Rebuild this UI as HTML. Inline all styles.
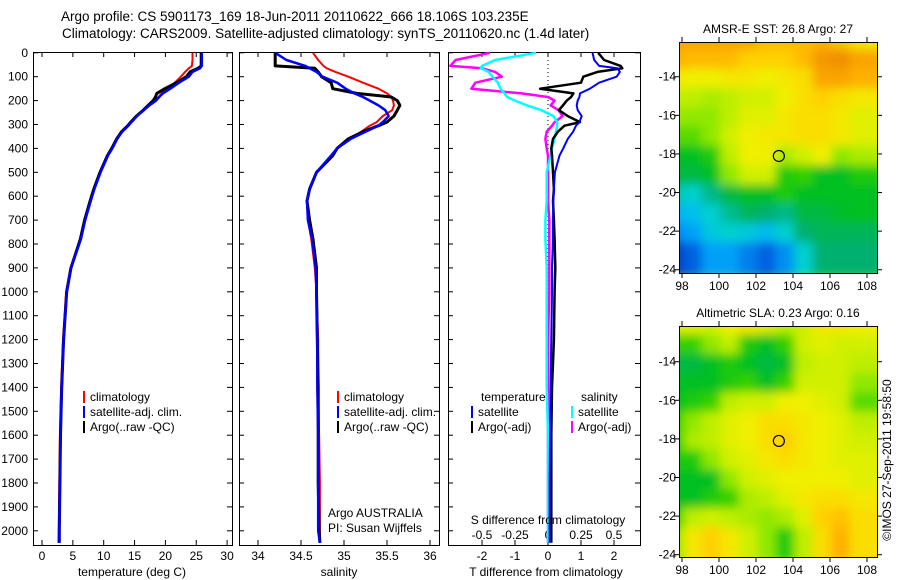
<!DOCTYPE html>
<html><head><meta charset="utf-8">
<style>
body{margin:0;background:#fff;width:900px;height:580px;overflow:hidden}
svg{display:block;font-family:"Liberation Sans",sans-serif}
text{fill:#000}
</style></head>
<body>
<svg id="chart" width="900" height="580" viewBox="0 0 900 580">
<text x="61" y="21" font-size="13.5">Argo profile: CS 5901173_169 18-Jun-2011 20110622_666 18.106S 103.235E</text>
<text x="62" y="38" font-size="13.5">Climatology: CARS2009. Satellite-adjusted climatology: synTS_20110620.nc (1.4d later)</text>
<text x="891" y="460" font-size="12" transform="rotate(-90 891 460)" text-anchor="middle">©IMOS 27-Sep-2011 19:58:50</text>
<g id="g"></g>
</svg>
<script>
// ---------- data ----------
const depths=[0,30,55,65,80,100,125,150,170,185,200,220,240,265,290,305,330,360,400,430,500,570,620,700,780,900,1000,1200,1400,1600,1800,2000,2050];
const depthTicks=[0,100,200,300,400,500,600,700,800,900,1000,1100,1200,1300,1400,1500,1600,1700,1800,1900,2000];
const tempTicks=[0,5,10,15,20,25,30];
const salTicks=[34,34.5,35,35.5,36];
const tdiffTicks=[-2,-1,0,1,2];
const sdiffTicks=[-0.5,-0.25,0,0.25,0.5];
const sdiffLabels=["-0.5","-0.25","0","0.25","0.5"];
const tempClim=[24.4,24.4,24.3,23.8,23.2,22.5,21.5,20.2,19.4,18.9,18.3,17.2,16.3,15.2,14.3,13.8,12.8,12.1,11.3,10.6,9.4,8.4,7.8,6.9,6.2,4.6,3.9,3.4,3.1,2.9,2.8,2.7,2.65];
const tempSat=[25.9,25.9,25.9,25.6,24.4,23.8,22.2,20.8,19.6,19.0,18.5,17.4,16.5,15.4,14.5,14.0,13.0,12.2,11.4,10.7,9.5,8.5,7.9,7.0,6.3,4.7,4.0,3.5,3.2,3.0,2.9,2.8,2.8];
const tempArgo=[25.8,25.8,25.8,25.3,24.0,23.4,21.8,19.9,18.6,18.4,18.0,17.2,16.4,15.3,14.4,13.9,12.9,12.1,11.3,10.6,9.4,8.4,7.8,6.9,6.2,4.7,4.0,3.5,3.2,3.0,2.9,2.8,2.8];
const salClim=[34.64,34.70,34.76,34.80,34.90,35.05,35.22,35.40,35.50,35.55,35.57,35.58,35.56,35.45,35.38,35.30,35.20,35.08,34.92,34.85,34.68,34.60,34.57,34.58,34.62,34.66,34.68,34.70,34.70,34.71,34.72,34.72,34.72];
const salSat=[34.20,34.33,34.55,34.60,34.68,34.75,34.92,35.02,35.12,35.22,35.30,35.40,35.48,35.52,35.45,35.40,35.25,35.08,34.92,34.85,34.68,34.60,34.57,34.58,34.63,34.67,34.68,34.69,34.69,34.70,34.70,34.70,34.72];
const salArgo=[34.20,34.20,34.20,34.66,34.70,34.74,34.85,34.87,35.15,35.55,35.62,35.65,35.62,35.58,35.50,35.40,35.22,35.05,34.92,34.87,34.68,34.60,34.57,34.60,34.64,34.68,34.68,34.69,34.70,34.70,34.70,34.71,34.72];
const tdiffSat=[1.35,1.40,1.55,2.10,2.18,2.08,1.55,1.27,0.97,0.95,0.90,0.87,0.90,1.02,0.95,0.85,0.76,0.60,0.46,0.35,0.21,0.18,0.16,0.15,0.15,0.12,0.12,0.10,0.08,0.06,0.05,0.05,0.05];
const tdiffArgo=[1.52,1.70,2.20,2.25,1.50,1.07,1.00,-0.24,0.77,0.70,0.57,0.45,0.33,0.60,0.97,0.50,0.30,0.15,0.10,0.12,0.15,0.18,0.15,0.18,0.20,0.22,0.20,0.18,0.12,0.10,0.10,0.10,0.10];
const sdiffSat=[-0.09,-0.40,-0.50,-0.51,-0.45,-0.42,-0.38,-0.36,-0.33,-0.31,-0.25,-0.16,-0.05,0.04,0.07,0.07,0.06,0.05,0.03,0.02,-0.01,-0.01,-0.01,-0.02,-0.02,-0.01,-0.01,-0.01,-0.01,0.0,0.0,0.0,0.0];
const sdiffArgo=[-0.44,-0.70,-0.74,-0.50,-0.40,-0.35,-0.55,-0.58,-0.20,0.00,0.05,0.02,0.08,0.11,0.05,0.03,-0.01,-0.02,-0.01,0.00,0.00,0.00,0.00,0.01,0.01,0.01,0.01,0.0,0.0,0.0,0.0,0.0,0.0];
const lonTicks=[98,100,102,104,106,108];
const latTicks=[-14,-16,-18,-20,-22,-24];
const gridLons=[98,99,100,101,102,103,104,105,106,107,108];
const gridLats=[-12.5,-13.5,-14.5,-15.5,-16.5,-17.5,-18.5,-19.5,-20.5,-21.5,-22.5,-23.5];
const sstGrid=[
[0.85,0.85,0.85,0.85,0.85,0.8,0.8,0.8,0.82,0.78,0.7],
[0.82,0.8,0.8,0.8,0.75,0.75,0.75,0.8,0.88,0.9,0.85],
[0.7,0.68,0.68,0.7,0.7,0.68,0.7,0.72,0.85,0.85,0.82],
[0.6,0.6,0.58,0.6,0.62,0.62,0.68,0.72,0.75,0.72,0.7],
[0.56,0.55,0.55,0.6,0.65,0.65,0.7,0.72,0.72,0.7,0.65],
[0.52,0.52,0.55,0.62,0.68,0.7,0.7,0.72,0.72,0.7,0.65],
[0.45,0.45,0.48,0.6,0.68,0.68,0.58,0.62,0.68,0.55,0.58],
[0.42,0.42,0.45,0.55,0.62,0.62,0.48,0.5,0.45,0.45,0.48],
[0.33,0.3,0.36,0.42,0.45,0.45,0.48,0.45,0.45,0.45,0.45],
[0.22,0.26,0.3,0.35,0.4,0.38,0.36,0.42,0.42,0.44,0.45],
[0.17,0.2,0.28,0.3,0.28,0.25,0.3,0.38,0.4,0.4,0.4],
[0.06,0.12,0.2,0.2,0.16,0.12,0.18,0.3,0.38,0.38,0.38]];
const slaGrid=[
[0.65,0.65,0.62,0.68,0.7,0.65,0.6,0.62,0.7,0.7,0.68],
[0.5,0.5,0.55,0.6,0.48,0.45,0.5,0.62,0.65,0.62,0.62],
[0.42,0.42,0.45,0.48,0.45,0.42,0.45,0.6,0.62,0.62,0.6],
[0.45,0.45,0.45,0.48,0.5,0.45,0.5,0.62,0.62,0.62,0.55],
[0.45,0.48,0.5,0.6,0.62,0.62,0.68,0.68,0.65,0.62,0.52],
[0.5,0.55,0.6,0.65,0.68,0.72,0.72,0.7,0.68,0.65,0.6],
[0.48,0.58,0.6,0.65,0.68,0.72,0.75,0.7,0.68,0.65,0.62],
[0.48,0.48,0.55,0.62,0.65,0.7,0.72,0.7,0.68,0.65,0.65],
[0.45,0.45,0.45,0.55,0.62,0.65,0.68,0.68,0.68,0.68,0.65],
[0.45,0.45,0.48,0.5,0.58,0.6,0.65,0.7,0.72,0.72,0.7],
[0.5,0.6,0.62,0.6,0.58,0.55,0.58,0.65,0.75,0.78,0.72],
[0.55,0.7,0.75,0.7,0.62,0.55,0.48,0.6,0.72,0.82,0.72]];
const floatLon=103.235, floatLat=-18.106;

// ---------- helpers ----------
const NS="http://www.w3.org/2000/svg";
const G=document.getElementById('g');
function mk(tag,attrs,parent){const e=document.createElementNS(NS,tag);for(const k in attrs)e.setAttribute(k,attrs[k]);(parent||G).appendChild(e);return e;}
const PB=545;
const yD=d=>52.8+0.239*d;
const xT=t=>42+6.17*t;
const xS=s=>258+86*(s-34);
const xTd=v=>548+33*v;
const xSd=v=>548+132*v;

function panel(x0,x1,y0,y1,name){
  const r=mk('rect',{x:x0+0.5,y:y0+0.5,width:x1-x0,height:y1-y0,fill:'none',stroke:'#000','stroke-width':1});
  
  
}
function xticks(vals,fx,y0,y1,labels,ly,name){
  vals.forEach((v,i)=>{
    const x=fx(v);
    mk('line',{x1:x,x2:x,y1:y1,y2:y1-5,stroke:'#000'});
    mk('line',{x1:x,x2:x,y1:y0,y2:y0+5,stroke:'#000'});
    if(labels){const t=mk('text',{x:x,y:ly,'font-size':12,'text-anchor':'middle'});t.textContent=labels[i];
      
      }
  });
}
function yticks(fx0,fx1,lab){
  depthTicks.forEach(d=>{
    const y=yD(d);
    mk('line',{x1:fx0,x2:fx0+5,y1:y,y2:y,stroke:'#000'});
    mk('line',{x1:fx1,x2:fx1-5,y1:y,y2:y,stroke:'#000'});
    if(lab){const t=mk('text',{x:28,y:y+4,'font-size':12,'text-anchor':'end'});t.textContent=d;
      
      }
  });
}
function line(vals,fx,color,w,name){
  let pts=[];
  vals.forEach((v,i)=>{pts.push(fx(v).toFixed(1)+','+Math.min(yD(depths[i]),PB).toFixed(1));});
  const p=mk('polyline',{points:pts.join(' '),fill:'none',stroke:color,'stroke-width':w,'stroke-linejoin':'round'});
  
  
}
function txt(x,y,s,name,anchor,size){const t=mk('text',{x:x,y:y,'font-size':size||12,'text-anchor':anchor||'start'});t.textContent=s;
  
  return t;}
function legend(x,y,items,prefix){
  items.forEach((it,i)=>{
    const yy=y+i*15;
    mk('line',{x1:x,x2:x,y1:yy-10,y2:yy+2,stroke:it[1],'stroke-width':2});
    txt(x+6,yy,it[0],prefix+'-legend-entry');
  });
}

// ---------- panel 1: temperature ----------
panel(33,232,52,PB,'temperature-panel');
yticks(33,232,true);
xticks(tempTicks,xT,52,PB,tempTicks,560,'temperature');
line(tempClim,xT,'#f00',2,'temperature-climatology-line');
line(tempArgo,xT,'#000',3,'temperature-argo-line');
line(tempSat,xT,'#00f',2.5,'temperature-satellite-line');
txt(132,576,'temperature (deg C)','temperature-axis-title','middle');
legend(84,401,[['climatology','#f00'],['satellite-adj. clim.','#00f'],['Argo(..raw -QC)','#000']],'temperature');

// ---------- panel 2: salinity ----------
panel(239,439,52,PB,'salinity-panel');
yticks(239,439,false);
xticks(salTicks,xS,52,PB,salTicks,560,'salinity');
line(salClim,xS,'#f00',2,'salinity-climatology-line');
line(salArgo,xS,'#000',3,'salinity-argo-line');
line(salSat,xS,'#00f',2.5,'salinity-satellite-line');
txt(339,576,'salinity','salinity-axis-title','middle');
legend(338,401,[['climatology','#f00'],['satellite-adj. clim.','#00f'],['Argo(..raw -QC)','#000']],'salinity');
txt(328,517,'Argo AUSTRALIA','argo-australia-label');
txt(328,532,'PI: Susan Wijffels','pi-label');

// ---------- panel 3: differences ----------
panel(448,640,52,PB,'difference-panel');
yticks(448,640,false);
xticks(tdiffTicks,xTd,52,PB,tdiffTicks,560,'tdiff');
sdiffTicks.forEach(v=>{const x=xSd(v);mk('line',{x1:x,x2:x,y1:52,y2:57,stroke:'#000'});});
sdiffTicks.forEach((v,i)=>txt(xSd(v),539,sdiffLabels[i],'sdiff-tick-label','middle'));
mk('line',{x1:548,x2:548,y1:52,y2:PB,stroke:'#000','stroke-dasharray':'1,3'});
line(sdiffArgo,xSd,'#f0f',2.5,'sdiff-argo-line');
line(sdiffSat,xSd,'#0ff',2.5,'sdiff-satellite-line');
line(tdiffArgo,xTd,'#000',2.5,'tdiff-argo-line');
line(tdiffSat,xTd,'#00f',2,'tdiff-satellite-line');
txt(548,524,'S difference from climatology','sdiff-axis-title','middle');
txt(546,576,'T difference from climatology','tdiff-axis-title','middle');
txt(481,401,'temperature','legend-temperature-heading');
txt(581,401,'salinity','legend-salinity-heading');
legend(472,416,[['satellite','#00f'],['Argo(-adj)','#000']],'tdiff');
legend(572,416,[['satellite','#0ff'],['Argo(-adj)','#f0f']],'sdiff');

// ---------- maps ----------
const stops=[[0,[0,32,160]],[0.12,[0,96,224]],[0.22,[0,176,255]],[0.3,[0,208,208]],[0.38,[0,176,112]],[0.45,[0,192,32]],[0.5,[48,208,0]],[0.55,[144,232,0]],[0.62,[208,240,0]],[0.68,[240,240,0]],[0.75,[255,208,0]],[0.82,[255,176,0]],[0.9,[240,144,0]],[1,[220,110,0]]];
function cmap(v){
  for(let i=1;i<stops.length;i++){if(v<=stops[i][0]){const a=stops[i-1],b=stops[i],f=(v-a[0])/(b[0]-a[0]);
    return 'rgb('+a[1].map((c,k)=>Math.round(c+(b[1][k]-c)*f)).join(',')+')';}}
  return 'rgb(220,110,0)';
}
function map(y0,y1,latTop,latScale,grid,title,name,id){
  const x0=679,x1=877;
  const xL=l=>682+18.5*(l-98);
  const yL=l=>y0+(latTop-l)*latScale;
  const defs=mk('defs',{});
  const clip=mk('clipPath',{id:'c'+id},defs);
  mk('rect',{x:x0,y:y0,width:x1-x0,height:y1-y0},clip);
  const flt=mk('filter',{id:'f'+id,x:'-10%',y:'-10%',width:'120%',height:'120%'},defs);
  mk('feGaussianBlur',{stdDeviation:5},flt);
  const g=mk('g',{'clip-path':'url(#c'+id+')'});
  
  
  mk('rect',{x:x0,y:y0,width:x1-x0,height:y1-y0,fill:cmap(grid[6][5])},g);
  const gb=mk('g',{filter:'url(#f'+id+')'},g);
  grid.forEach((row,r)=>row.forEach((v,c)=>{
    const cell=mk('rect',{x:xL(gridLons[c]-0.5)-8,y:yL(gridLats[r]+0.5)-8,width:18.5+16,height:latScale+16,fill:cmap(v)},gb);
    
    
  }));
  const c=mk('circle',{cx:xL(floatLon),cy:yL(floatLat),r:5.5,fill:'none',stroke:'#000','stroke-width':1.2});
  
  
  panel(x0,x1,y0,y1,name+'-frame');
  lonTicks.forEach(l=>{const x=xL(l);mk('line',{x1:x,x2:x,y1:y0,y2:y0-5,stroke:'#000'});mk('line',{x1:x,x2:x,y1:y1,y2:y1+5,stroke:'#000'});
    txt(x,y1+17,l,name+'-lon-label','middle');});
  latTicks.forEach(l=>{const y=yL(l);mk('line',{x1:x0,x2:x0-5,y1:y,y2:y,stroke:'#000'});mk('line',{x1:x1,x2:x1+5,y1:y,y2:y,stroke:'#000'});
    txt(676,y+4,l,name+'-lat-label','end');});
  txt(778,y0-9,title,name+'-title','middle');
}
map(42,273,-12.2,19.3,sstGrid,'AMSR-E SST: 26.8 Argo: 27','sst-map',1);
map(326,557,-12.15,19.3,slaGrid,'Altimetric SLA: 0.23 Argo: 0.16','sla-map',2);
</script>
</body></html>
